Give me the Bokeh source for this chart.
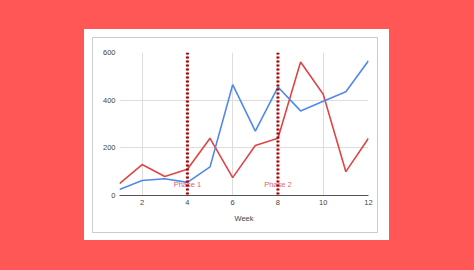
from bokeh.plotting import figure
from bokeh.layouts import column
from bokeh.models import FixedTicker, Span, ColumnDataSource
from bokeh.core.properties import value
from bokeh.embed import file_html
from bokeh.resources import INLINE

weeks = [1, 2, 3, 4, 5, 6, 7, 8, 9, 10, 11, 12]
blue_series = [25, 63, 70, 55, 120, 465, 270, 455, 355, 395, 435, 565]
red_series = [50, 130, 80, 110, 240, 75, 210, 240, 560, 425, 100, 240]
phase_weeks = [4, 8]
phase_labels = ["Phase 1", "Phase 2"]
phase_label_y = [45, 45]
x_ticks = [2, 4, 6, 8, 10, 12]
y_ticks = [0, 200, 400, 600]

BG = "#FF5656"
FONT = "Liberation Sans"

p = figure(width=284, height=194, output_backend="svg", toolbar_location=None,
           x_range=(1, 12), y_range=(0, 600),
           min_border_left=26, min_border_right=9, min_border_top=14, min_border_bottom=37)
p.border_fill_color = "white"
p.background_fill_color = "white"
p.outline_line_color = None
p.styles = {"outline": "1px solid #cccccc"}
p.margin = (9, 12, 8, 9)

p.xaxis.ticker = FixedTicker(ticks=x_ticks)
p.yaxis.ticker = FixedTicker(ticks=y_ticks)
p.xaxis.axis_label = "Week"
for ax in (p.xaxis, p.yaxis):
    ax.major_tick_line_color = None
    ax.minor_tick_line_color = None
    ax.major_tick_out = 0
    ax.major_tick_in = 0
    ax.minor_tick_out = 0
    ax.major_label_text_font = FONT
    ax.major_label_text_font_size = "7.5px"
    ax.major_label_text_color = "#444444"
p.yaxis.axis_line_color = None
p.yaxis.major_label_standoff = 4
p.xaxis.axis_line_color = "#555555"
p.xaxis.major_label_standoff = 4
p.xaxis.axis_label_text_font = FONT
p.xaxis.axis_label_text_font_size = "7.5px"
p.xaxis.axis_label_text_font_style = "normal"
p.xaxis.axis_label_text_color = "#444444"
p.xaxis.axis_label_standoff = 6

p.xgrid.ticker = FixedTicker(ticks=x_ticks)
p.ygrid.ticker = FixedTicker(ticks=[200, 400, 600])
p.grid.grid_line_color = "#dddddd"
p.grid.grid_line_width = 1

p.line(weeks, red_series, line_color="#DE4646", line_width=1.6)
p.line(weeks, blue_series, line_color="#5088EC", line_width=1.6)

for w in phase_weeks:
    p.add_layout(Span(location=w, dimension="height", line_color="#A00000",
                      line_width=3, line_dash="2 2"))

src = ColumnDataSource(dict(x=phase_weeks, y=phase_label_y, t=phase_labels))
p.text(x="x", y="y", text="t", source=src, text_align="center", text_baseline="middle",
       text_font=value(FONT), text_font_size="7.5px", text_color="#E06666")

panel = column(p, styles={"background-color": "white"})
panel.margin = (29, 85, 30, 84)
page = column(panel, styles={"background-color": BG}, width=474, height=270)

open("out.html", "w").write(file_html(page, INLINE))
